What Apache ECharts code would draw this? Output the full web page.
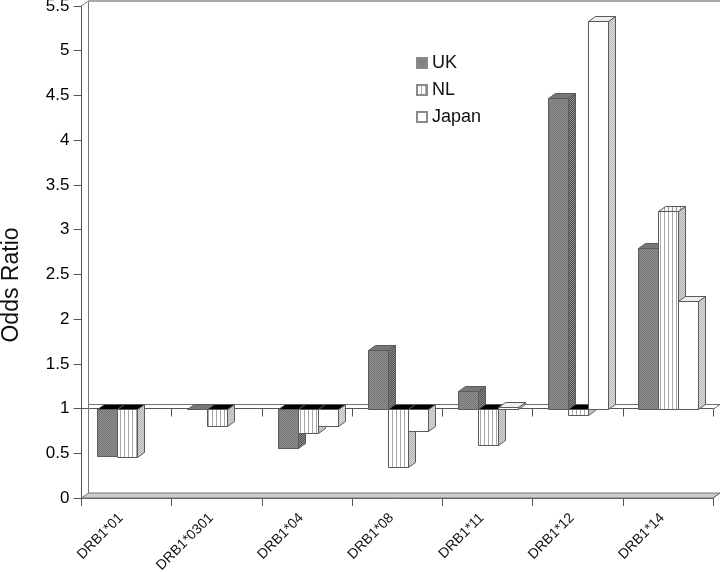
<!DOCTYPE html>
<html><head><meta charset="utf-8">
<style>html,body{margin:0;padding:0;background:#fff}#c{width:720px;height:572px}</style>
<script src="https://cdn.jsdelivr.net/npm/echarts@6/dist/echarts.min.js"></script>
</head><body><div id="c"></div>
<script>
const categories = ['DRB1*01','DRB1*0301','DRB1*04','DRB1*08','DRB1*11','DRB1*12','DRB1*14'];
const yTicks = [0,0.5,1,1.5,2,2.5,3,3.5,4,4.5,5,5.5];
const ukValues = [0.47,1.0,0.56,1.65,1.195,4.475,2.8];
const nlValues = [0.46,0.8,0.73,0.345,0.59,0.925,3.21];
const japanValues = [null,null,0.8,0.75,1.02,5.335,2.2];
const baseline = 1;

const DX = 7, DY = -5, BW = 20;
function pat(bg, fg, kind){
  const c = document.createElement('canvas');
  const n = kind === 'v' ? 4 : 2;
  c.width = n; c.height = n;
  const g = c.getContext('2d');
  g.fillStyle = bg; g.fillRect(0,0,n,n);
  g.fillStyle = fg;
  if(kind === 'v'){ g.fillRect(0,0,1,n); }
  else { g.fillRect(0,0,1,1); g.fillRect(1,1,1,1); }
  return {image:c, repeat:'repeat'};
}
const styles = {
  UK:{front:pat('#8e8e8e','#767676','d'), top:'#777777', side:pat('#4e4e4e','#8e8e8e','d')},
  NL:{front:pat('#ffffff','#a8a8a8','v'), top:pat('#f2f2f2','#a0a0a0','v'), side:pat('#d4d4d4','#b4b4b4','d')},
  Japan:{front:'#ffffff', top:'#eeeeee', side:pat('#dadada','#bdbdbd','d')}
};
const LINE = '#5a5a5a';

function makeSeries(name, values, idx){
  const st = styles[name];
  return {
    name, type:'custom', xAxisIndex:0, yAxisIndex:0, z:5+idx,
    itemStyle:{color: name==='Japan' ? '#ffffff' : st.front, borderColor:'#8a8a8a', borderWidth:1},
    data: values.map((v,i)=>[i,v]),
    encode:{x:0,y:1},
    renderItem(params, api){
      const v = api.value(1);
      if (isNaN(v) || v === null) return;
      const p = api.coord([api.value(0), v]);
      const b = api.coord([api.value(0), baseline]);
      const x = Math.round(p[0]-29.5+idx*BW)+0.5;
      const y0 = Math.round(b[1])+0.5, y1 = Math.round(p[1])+0.5;
      const up = y1 < y0;
      const yTop = Math.min(y0,y1), yBot = Math.max(y0,y1);
      const topFill = up || Math.abs(y0-y1) < 3 ? st.top : '#000000';
      const line = {stroke:LINE, lineWidth:1};
      return {type:'group', children:[
        {type:'polygon', shape:{points:[[x+BW,yTop],[x+BW+DX,yTop+DY],[x+BW+DX,yBot+DY],[x+BW,yBot]]},
         style:Object.assign({fill:st.side},line)},
        {type:'polygon', shape:{points:[[x,yTop],[x+DX,yTop+DY],[x+BW+DX,yTop+DY],[x+BW,yTop]]},
         style:Object.assign({fill:topFill},line)},
        {type:'rect', shape:{x:x,y:yTop,width:BW,height:yBot-yTop},
         style:Object.assign({fill:st.front},line)}
      ]};
    }
  };
}

const chart = echarts.init(document.getElementById('c'));
const frame = {
  type:'custom', silent:true, z:1, data:[[0]], legendHoverLink:false,
  renderItem(params, api){
    const L = params.coordSys.x, R = L+params.coordSys.width;
    const B = params.coordSys.y+params.coordSys.height, T = params.coordSys.y;
    const y1 = Math.round(api.coord([0,baseline])[1])+0.5;
    const gl = {stroke:'#707070', lineWidth:1};
    return {type:'group', children:[
      {type:'polygon', shape:{points:[[L,B],[L+DX,B+DY],[R+DX,B+DY],[R,B]]},
       style:{fill:pat('#d6d6d6','#c2c2c2','d'), stroke:'#777', lineWidth:1}},
      {type:'polyline', shape:{points:[[L,T],[L+DX,T-5],[L+DX,B+DY]]}, style:{fill:'none',stroke:'#777',lineWidth:1}},
      {type:'line', shape:{x1:L+DX,y1:T-5,x2:R+DX,y2:T-5}, style:{stroke:'#aaaaaa',lineWidth:2}},
      {type:'line', shape:{x1:L+DX,y1:y1+DY,x2:R+DX,y2:y1+DY}, style:gl},
      {type:'line', shape:{x1:R,y1:y1,x2:R+DX,y2:y1+DY}, style:gl},
      {type:'line', shape:{x1:R,y1:B,x2:R+DX,y2:B+DY}, style:gl}
    ]};
  }
};
const axisLine = {show:true, lineStyle:{color:'#555555', width:1}};
const axisTick = {show:true, length:8, lineStyle:{color:'#555555', width:1}};
chart.setOption({
  animation:false, backgroundColor:'#ffffff',
  textStyle:{fontFamily:'"Liberation Sans", Arial, sans-serif', color:'#111'},
  grid:{left:81.5, right:7, top:6, bottom:74, containLabel:false, outerBoundsMode:'none'},
  legend:{
    left:411, top:49, orient:'vertical', itemWidth:10, itemHeight:10, itemGap:9,
    icon:'rect', data:['UK','NL','Japan'],
    textStyle:{fontSize:18, color:'#111', fontFamily:'"Liberation Sans", Arial, sans-serif', lineHeight:18}
  },
  xAxis:[
    {type:'category', data:categories, position:'bottom', axisLine, axisTick,
     axisLabel:{rotate:45, interval:0, fontSize:14, margin:12, padding:[0,8,0,0], color:'#111'}},
    {type:'category', data:categories, position:'bottom', offset:-89.5, axisLine, axisTick, axisLabel:{show:false}}
  ],
  yAxis:{type:'value', min:0, max:5.5, interval:0.5, position:'left',
    name:'Odds Ratio', nameLocation:'middle', nameGap:58, nameRotate:90,
    nameTextStyle:{fontSize:23, color:'#111', padding:[0,66,0,0]},
    axisLine, axisTick, splitLine:{show:false},
    axisLabel:{fontSize:17, color:'#000', margin:12, formatter:v=>String(v)}},
  series:[frame, makeSeries('UK',ukValues,0), makeSeries('NL',nlValues,1), makeSeries('Japan',japanValues,2)]
});
</script></body></html>
